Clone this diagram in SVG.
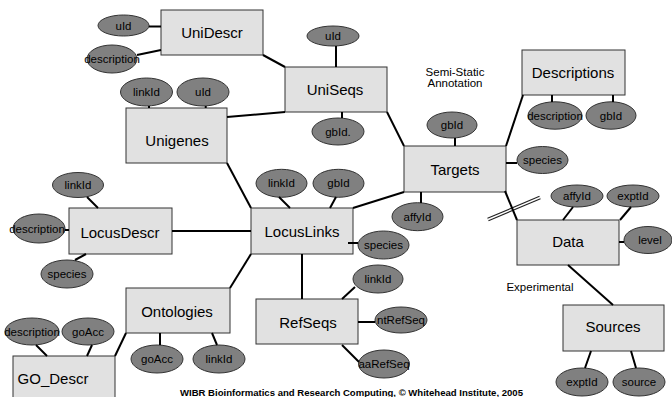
<svg xmlns="http://www.w3.org/2000/svg" width="672" height="397" viewBox="0 0 672 397">
<style>
.box{fill:#e1e1e1;stroke:#333;stroke-width:1}
.att{fill:#808080;stroke:#333;stroke-width:1}
.bl{font-family:"Liberation Sans",Arial,sans-serif;font-size:15px;fill:#000;text-anchor:middle}
.al{font-family:"Liberation Sans",Arial,sans-serif;font-size:11.5px;fill:#000;text-anchor:middle}
.note{font-family:"Liberation Sans",Arial,sans-serif;font-size:11.5px;fill:#000;text-anchor:middle}
.foot{font-family:"Liberation Sans",Arial,sans-serif;font-size:8.5px;font-weight:bold;fill:#000}
.c{stroke:#000;stroke-width:2;fill:none}
</style>
<rect width="672" height="397" fill="#fff"/>
<g id="UniDescr"><rect class="box" x="161" y="10" width="102" height="45"/><text class="bl" x="212" y="38">UniDescr</text></g>
<g id="UniSeqs"><rect class="box" x="285" y="67" width="102" height="45"/><text class="bl" x="335" y="95">UniSeqs</text></g>
<g id="Unigenes"><rect class="box" x="126" y="108" width="101" height="55"/><text class="bl" x="177" y="146">Unigenes</text></g>
<g id="Descriptions"><rect class="box" x="522" y="50" width="103" height="45"/><text class="bl" x="573" y="78">Descriptions</text></g>
<g id="Targets"><rect class="box" x="404" y="146" width="102" height="46"/><text class="bl" x="455" y="175">Targets</text></g>
<g id="LocusDescr"><rect class="box" x="69" y="208" width="103" height="46"/><text class="bl" x="120" y="238">LocusDescr</text></g>
<g id="LocusLinks"><rect class="box" x="251" y="208" width="102" height="46"/><text class="bl" x="302" y="237">LocusLinks</text></g>
<g id="Data"><rect class="box" x="517" y="220" width="102" height="45"/><text class="bl" x="568" y="247">Data</text></g>
<g id="Ontologies"><rect class="box" x="126" y="288" width="104" height="45"/><text class="bl" x="177" y="317">Ontologies</text></g>
<g id="RefSeqs"><rect class="box" x="256" y="299" width="102" height="45"/><text class="bl" x="308" y="328">RefSeqs</text></g>
<g id="Sources"><rect class="box" x="563" y="305" width="101" height="46"/><text class="bl" x="613" y="332">Sources</text></g>
<g id="GO_Descr"><rect class="box" x="13" y="356" width="102" height="50"/><text class="bl" x="53" y="384">GO_Descr</text></g>

<g id="a_unidescr_uid"><ellipse class="att" cx="123.5" cy="25.5" rx="25.5" ry="10.5"/><text class="al" x="123.5" y="29.5">uId</text></g>
<g id="a_unidescr_desc"><ellipse class="att" cx="112" cy="59" rx="25" ry="14"/><text class="al" x="112" y="63">description</text></g>
<g id="a_unigenes_linkid"><ellipse class="att" cx="146.5" cy="92" rx="26" ry="14"/><text class="al" x="146.5" y="96">linkId</text></g>
<g id="a_unigenes_uid"><ellipse class="att" cx="203" cy="92" rx="26" ry="14"/><text class="al" x="203" y="96">uId</text></g>
<g id="a_uniseqs_uid"><ellipse class="att" cx="333" cy="36" rx="26" ry="10"/><text class="al" x="333" y="40">uId</text></g>
<g id="a_uniseqs_gbid"><ellipse class="att" cx="338" cy="131.5" rx="26" ry="13.5"/><text class="al" x="338" y="135.5">gbId.</text></g>
<g id="a_targets_gbid"><ellipse class="att" cx="452" cy="125" rx="25" ry="13"/><text class="al" x="452" y="129">gbId</text></g>
<g id="a_targets_species"><ellipse class="att" cx="542.5" cy="160" rx="25.5" ry="13.5"/><text class="al" x="542.5" y="164">species</text></g>
<g id="a_descr_desc"><ellipse class="att" cx="555" cy="115.5" rx="27" ry="13.7"/><text class="al" x="555" y="119.5">description</text></g>
<g id="a_descr_gbid"><ellipse class="att" cx="611" cy="115.5" rx="25" ry="13.7"/><text class="al" x="611" y="119.5">gbId</text></g>
<g id="a_targets_affyid"><ellipse class="att" cx="417.5" cy="216.7" rx="25.5" ry="14"/><text class="al" x="417.5" y="220.7">affyId</text></g>
<g id="a_ll_linkid"><ellipse class="att" cx="281.5" cy="183.3" rx="25.5" ry="14"/><text class="al" x="281.5" y="187.3">linkId</text></g>
<g id="a_ll_gbid"><ellipse class="att" cx="338.5" cy="183.3" rx="25.5" ry="14"/><text class="al" x="338.5" y="187.3">gbId</text></g>
<g id="a_ll_species"><ellipse class="att" cx="383.5" cy="245" rx="25.5" ry="14"/><text class="al" x="383.5" y="249">species</text></g>
<g id="a_ld_linkid"><ellipse class="att" cx="78" cy="185" rx="25.5" ry="12.5"/><text class="al" x="78" y="189">linkId</text></g>
<g id="a_ld_desc"><ellipse class="att" cx="39" cy="228.5" rx="26" ry="14.5"/><text class="al" x="37" y="232.5">description</text></g>
<g id="a_ld_species"><ellipse class="att" cx="67" cy="274" rx="26" ry="14"/><text class="al" x="67" y="278">species</text></g>
<g id="a_data_affyid"><ellipse class="att" cx="577" cy="196" rx="26" ry="11"/><text class="al" x="577" y="200">affyId</text></g>
<g id="a_data_exptid"><ellipse class="att" cx="633" cy="196" rx="26" ry="11"/><text class="al" x="633" y="200">exptId</text></g>
<g id="a_data_level"><ellipse class="att" cx="648" cy="240" rx="24" ry="13.5"/><text class="al" x="650" y="244">level</text></g>
<g id="a_rs_linkid"><ellipse class="att" cx="378" cy="279" rx="25" ry="14"/><text class="al" x="378" y="283">linkId</text></g>
<g id="a_rs_nt"><ellipse class="att" cx="401" cy="320" rx="26" ry="13"/><text class="al" x="401" y="324">ntRefSeq</text></g>
<g id="a_rs_aa"><ellipse class="att" cx="384" cy="364" rx="25.5" ry="14"/><text class="al" x="384" y="368">aaRefSeq</text></g>
<g id="a_src_exptid"><ellipse class="att" cx="582" cy="382" rx="26" ry="14"/><text class="al" x="582" y="386">exptId</text></g>
<g id="a_src_source"><ellipse class="att" cx="639" cy="382" rx="26" ry="14"/><text class="al" x="639" y="386">source</text></g>
<g id="a_go_desc"><ellipse class="att" cx="32" cy="331.5" rx="27" ry="13.5"/><text class="al" x="32" y="335.5">description</text></g>
<g id="a_go_goacc"><ellipse class="att" cx="88" cy="331.5" rx="26" ry="13.5"/><text class="al" x="88" y="335.5">goAcc</text></g>
<g id="a_ont_goacc"><ellipse class="att" cx="157" cy="359" rx="26" ry="14"/><text class="al" x="157" y="363">goAcc</text></g>
<g id="a_ont_linkid"><ellipse class="att" cx="219" cy="359" rx="26" ry="14"/><text class="al" x="219" y="363">linkId</text></g>

<g id="connectors">
<line x1="488" y1="219.5" x2="540" y2="197.5" stroke="#222" stroke-width="3.6"/>
<line x1="488" y1="219.5" x2="540" y2="197.5" stroke="#fff" stroke-width="1.4"/>
<line class="c" x1="149" y1="26.5" x2="161" y2="26.5"/>
<line class="c" x1="137" y1="55" x2="161" y2="50"/>
<line class="c" x1="263" y1="55" x2="285" y2="67"/>
<line class="c" x1="336" y1="46" x2="336" y2="67"/>
<line class="c" x1="342" y1="112" x2="342" y2="118"/>
<line class="c" x1="227" y1="117" x2="285" y2="112"/>
<line class="c" x1="149" y1="106" x2="149" y2="108"/>
<line class="c" x1="205.7" y1="106" x2="205.7" y2="108"/>
<line class="c" x1="387" y1="112" x2="404" y2="146"/>
<line class="c" x1="455" y1="138" x2="455" y2="146"/>
<line class="c" x1="506" y1="146" x2="523" y2="95"/>
<line class="c" x1="552" y1="95" x2="552" y2="102"/>
<line class="c" x1="613" y1="95" x2="613" y2="102"/>
<line class="c" x1="506" y1="163" x2="517" y2="163"/>
<line class="c" x1="421" y1="192" x2="421" y2="203"/>
<line class="c" x1="505" y1="191" x2="517" y2="220"/>
<line class="c" x1="573" y1="207" x2="563" y2="220"/>
<line class="c" x1="631" y1="207" x2="620" y2="220"/>
<line class="c" x1="619" y1="242" x2="624" y2="242"/>
<line class="c" x1="568" y1="265" x2="613" y2="305"/>
<line class="c" x1="585" y1="368" x2="591" y2="351"/>
<line class="c" x1="636" y1="368" x2="631" y2="351"/>
<line class="c" x1="227" y1="163" x2="251" y2="208"/>
<line class="c" x1="353" y1="208" x2="404" y2="192"/>
<line class="c" x1="279" y1="197" x2="290" y2="208"/>
<line class="c" x1="336" y1="197" x2="330" y2="208"/>
<line class="c" x1="348" y1="243" x2="358" y2="243"/>
<line class="c" x1="172" y1="231" x2="251" y2="231"/>
<line class="c" x1="87" y1="197" x2="98" y2="208"/>
<line class="c" x1="65" y1="230" x2="69" y2="230"/>
<line class="c" x1="75" y1="260" x2="86" y2="254"/>
<line class="c" x1="251" y1="254" x2="230" y2="288"/>
<line class="c" x1="302" y1="254" x2="302" y2="299"/>
<line class="c" x1="342" y1="299" x2="355" y2="287"/>
<line class="c" x1="358" y1="322" x2="375" y2="322"/>
<line class="c" x1="342" y1="345" x2="359" y2="362"/>
<line class="c" x1="160" y1="333" x2="160" y2="345"/>
<line class="c" x1="212" y1="333" x2="217" y2="345"/>
<line class="c" x1="115" y1="356" x2="126" y2="333"/>
<line class="c" x1="36" y1="345" x2="47" y2="356"/>
<line class="c" x1="92" y1="345" x2="87" y2="356"/>
</g>

<text class="note" x="455" y="76">Semi-Static</text>
<text class="note" x="455" y="87">Annotation</text>
<text class="note" x="540" y="291">Experimental</text>
<text class="foot" x="180" y="396" textLength="343" lengthAdjust="spacingAndGlyphs">WIBR Bioinformatics and Research Computing, © Whitehead Institute, 2005</text>
</svg>
